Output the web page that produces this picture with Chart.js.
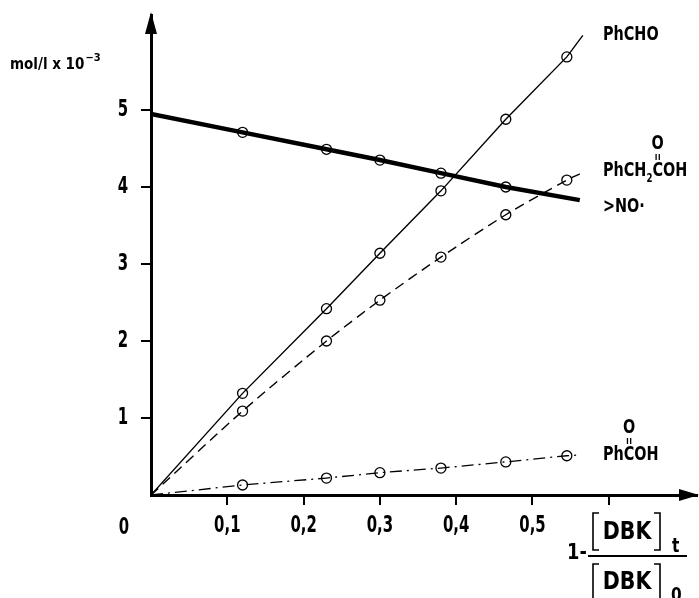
<!DOCTYPE html>
<html><head><meta charset="utf-8">
<script src="https://cdn.jsdelivr.net/npm/chart.js@4.4.1/dist/chart.umd.min.js"></script>
<style>html,body{margin:0;padding:0;background:#fff;} #wrap{width:699px;height:598px;position:relative;}</style>
</head><body><div id="wrap"><canvas id="c" width="699" height="598"></canvas></div>
<script>
const FONT = '"DejaVu Sans Condensed","Liberation Sans",sans-serif';

const xTicks = [0.1, 0.2, 0.3, 0.4, 0.5, 0.6];
const xTickLabels = ['0,1', '0,2', '0,3', '0,4', '0,5', ''];
const yTicks = [1, 2, 3, 4, 5];
const yTickLabels = ['1', '2', '3', '4', '5'];

// >NO· (thick line)
const nitroxideX = [0, 0.12, 0.23, 0.30, 0.38, 0.465, 0.562];
const nitroxideY = [4.95, 4.71, 4.49, 4.35, 4.18, 4.00, 3.83];
// PhCHO (thin solid)
const benzaldehydeX = [0, 0.12, 0.23, 0.30, 0.38, 0.465, 0.545, 0.566];
const benzaldehydeY = [0, 1.32, 2.42, 3.14, 3.95, 4.88, 5.69, 5.97];
// PhCH2COOH (dashed)
const phenylaceticX = [0, 0.12, 0.23, 0.30, 0.38, 0.465, 0.545, 0.562];
const phenylaceticY = [0, 1.09, 2.00, 2.53, 3.09, 3.64, 4.09, 4.17];
// PhCOOH (dash-dot)
const benzoicX = [0, 0.12, 0.23, 0.30, 0.38, 0.465, 0.545, 0.563];
const benzoicY = [0, 0.13, 0.22, 0.29, 0.35, 0.43, 0.51, 0.52];

// condensed-looking text: compress glyphs horizontally via fillText maxWidth
const origFill = CanvasRenderingContext2D.prototype.fillText;
CanvasRenderingContext2D.prototype.fillText = function (t, x, y, mw) {
  if (mw === undefined && this._squeeze) {
    const w = this.measureText(t).width;
    if (w > 0) return origFill.call(this, t, x, y, w * this._squeeze);
  }
  return mw === undefined ? origFill.call(this, t, x, y) : origFill.call(this, t, x, y, mw);
};

function pts(xs, ys) { return xs.map((x, i) => ({ x: x, y: ys[i] })); }
function markerRadius(n) { return ctx => (ctx.dataIndex === 0 || ctx.dataIndex === n - 1) ? 0 : 5; }

function ds(xs, ys, width, dash, tension) {
  return {
    data: pts(xs, ys),
    borderColor: '#000',
    borderWidth: width,
    borderDash: dash,
    tension: tension,
    pointRadius: markerRadius(xs.length),
    pointHoverRadius: 0,
    pointBorderColor: '#000',
    pointBackgroundColor: 'rgba(0,0,0,0)',
    pointBorderWidth: 1.3,
    fill: false
  };
}

const decorations = {
  id: 'decorations',
  beforeDraw(chart) { chart.ctx._squeeze = 0.72; },
  afterDraw(chart) {
    const c = chart.ctx;
    const a = chart.chartArea;
    c.save();
    c.fillStyle = '#000';
    c.strokeStyle = '#000';
    // arrowheads
    c.beginPath();
    c.moveTo(a.left, a.top - 3);
    c.lineTo(a.left - 6, a.top + 19);
    c.lineTo(a.left + 6, a.top + 19);
    c.closePath(); c.fill();
    c.beginPath();
    c.moveTo(a.right + 2, a.bottom);
    c.lineTo(a.right - 18, a.bottom - 6);
    c.lineTo(a.right - 18, a.bottom + 6);
    c.closePath(); c.fill();

    c.textBaseline = 'middle';
    // origin label
    c._squeeze = 0.72;
    c.font = 'bold 23px ' + FONT;
    c.textAlign = 'center';
    c.fillText('0', 124, 528);
    c.textAlign = 'left';

    // y-axis unit
    c._squeeze = 0;
    c.font = 'bold 15px ' + FONT;
    c.textBaseline = 'alphabetic';
    c.fillText('mol/l x 10', 10, 69);
    let w = c.measureText('mol/l x 10').width;
    c.font = 'bold 11px ' + FONT;
    c.fillText('\u22123', 10 + w + 1, 61);

    // series labels (condensed)
    const SQ = 0.8;
    c._squeeze = SQ;
    c.font = 'bold 20px ' + FONT;
    c.textBaseline = 'middle';
    c.fillText('PhCHO', 603, 35);

    function acid(prefix, sub, y) {
      c.font = 'bold 20px ' + FONT;
      let x = 603;
      c.fillText(prefix, x, y);
      x += c.measureText(prefix).width * SQ;
      if (sub) {
        c.font = 'bold 12px ' + FONT;
        c.fillText(sub, x, y + 8);
        x += c.measureText(sub).width * SQ;
        c.font = 'bold 20px ' + FONT;
      }
      const cw = c.measureText('C').width * SQ;
      const cx = x + cw / 2;
      c.fillText('COH', x, y);
      c.textAlign = 'center';
      c.fillText('O', cx, y - 27);
      c.textAlign = 'left';
      c.lineWidth = 1.3;
      c.beginPath();
      c.moveTo(cx - 1.6, y - 17); c.lineTo(cx - 1.6, y - 11);
      c.moveTo(cx + 1.6, y - 17); c.lineTo(cx + 1.6, y - 11);
      c.stroke();
    }
    acid('PhCH', '2', 171);
    acid('Ph', '', 455);

    c.font = 'bold 20px ' + FONT;
    c.fillText('>NO\u00b7', 603, 207);

    // x-axis label 1 - [DBK]t/[DBK]0
    c._squeeze = 0.9;
    c.font = 'bold 22px ' + FONT;
    c.fillText('1-', 567, 553);
    c.lineWidth = 2;
    c.beginPath();
    c.moveTo(588, 556); c.lineTo(687, 556);
    c.stroke();
    function bracketed(yTop, yBot) {
      c.lineWidth = 1.6;
      c.beginPath();
      c.moveTo(599, yTop); c.lineTo(593, yTop); c.lineTo(593, yBot); c.lineTo(599, yBot);
      c.moveTo(654, yTop); c.lineTo(660, yTop); c.lineTo(660, yBot); c.lineTo(654, yBot);
      c.stroke();
      c._squeeze = 0.95;
      c.font = 'bold 24px ' + FONT;
      c.textAlign = 'center';
      c.fillText('DBK', 627, (yTop + yBot) / 2 + 1);
      c.textAlign = 'left';
    }
    bracketed(513, 550);
    bracketed(564, 600);
    c._squeeze = 0.9;
    c.font = 'bold 19px ' + FONT;
    c.fillText('t', 672, 547);
    c.fillText('0', 671, 596);
    c._squeeze = 0;
    c.restore();
  }
};

new Chart(document.getElementById('c'), {
  type: 'line',
  data: {
    datasets: [
      ds(nitroxideX, nitroxideY, 4.5, [], 0),
      ds(benzaldehydeX, benzaldehydeY, 1.4, [], 0),
      ds(phenylaceticX, phenylaceticY, 1.4, [10, 6], 0.25),
      ds(benzoicX, benzoicY, 1.3, [12, 5, 2, 5], 0)
    ]
  },
  options: {
    responsive: false,
    animation: false,
    devicePixelRatio: 1,
    layout: { padding: { left: 0, right: 2, top: 15, bottom: 0 } },
    plugins: { legend: { display: false }, tooltip: { enabled: false } },
    scales: {
      x: {
        type: 'linear', min: 0, max: 0.7156,
        afterBuildTicks: s => { s.ticks = xTicks.map(v => ({ value: v })); },
        afterFit: s => { s.height = 103; s.paddingLeft = 0; s.paddingRight = 0; },
        ticks: {
          autoSkip: false, maxRotation: 0, color: '#000', padding: 7,
          font: { family: FONT, size: 23, weight: 'bold' },
          callback: (v, i) => xTickLabels[i]
        },
        grid: { drawOnChartArea: false, drawTicks: true, tickLength: 10, color: '#000', lineWidth: 2 },
        border: { display: true, color: '#000', width: 3 }
      },
      y: {
        type: 'linear', min: 0, max: 6.234,
        afterBuildTicks: s => { s.ticks = yTicks.map(v => ({ value: v })); },
        afterFit: s => { s.width = 151; s.paddingTop = 0; s.paddingBottom = 0; },
        ticks: {
          autoSkip: false, color: '#000', padding: 13,
          font: { family: FONT, size: 23, weight: 'bold' },
          callback: (v, i) => yTickLabels[i]
        },
        grid: { drawOnChartArea: false, drawTicks: true, tickLength: 10, color: '#000', lineWidth: 2 },
        border: { display: true, color: '#000', width: 3 }
      }
    }
  },
  plugins: [decorations]
});
</script></body></html>
